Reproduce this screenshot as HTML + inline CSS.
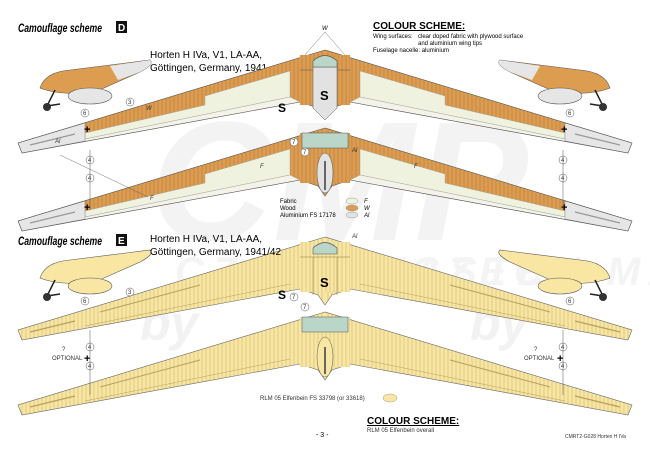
<!DOCTYPE html>
<html><head><meta charset="utf-8"><style>
body{margin:0;background:#fff}
svg{display:block}
text{font-family:"Liberation Sans",sans-serif}
</style></head><body>
<svg width="650" height="460" viewBox="0 0 650 460" xmlns="http://www.w3.org/2000/svg">
<defs>
<pattern id="ribsD" width="4" height="4" patternUnits="userSpaceOnUse"><line x1="2" y1="0" x2="2" y2="4" stroke="#9a6a30" stroke-width="0.4"/></pattern>
<pattern id="ribsE" width="4" height="4" patternUnits="userSpaceOnUse"><line x1="2" y1="0" x2="2" y2="4" stroke="#b8a060" stroke-width="0.4"/></pattern>
<g id="halfD">
 <polygon points="325,0 18,93 22,103 300,52 318,58 325,68" fill="#dd9d50"/>
 <polygon points="325,0 18,93 22,103 300,52 318,58 325,68" fill="url(#ribsD)"/>
 <polygon points="290,21 205,46 205,55 85,83 85,89 290,47" fill="#eef2df" stroke="#999" stroke-width="0.4"/>
 <polygon points="85,89 22,101 22,103 300,52 290,47" fill="#f3f3ea" stroke="#888" stroke-width="0.3"/>
 <polygon points="85,73 18,93 22,103 85,91" fill="#e6e6e6" stroke="#777" stroke-width="0.4"/>
 <line x1="30" y1="95" x2="75" y2="84" stroke="#999" stroke-width="1.2"/>
</g>
<g id="halfE">
 <polygon points="325,0 18,93 22,103 300,52 318,58 325,68" fill="#f8e6a2"/>
 <polygon points="325,0 18,93 22,103 300,52 318,58 325,68" fill="url(#ribsE)"/>
 <line x1="85" y1="89" x2="290" y2="47" stroke="#b8a060" stroke-width="0.5"/>
 <line x1="30" y1="95" x2="75" y2="84" stroke="#b8a060" stroke-width="1.2"/>
 <line x1="100" y1="75" x2="200" y2="48" stroke="#b8a060" stroke-width="1"/>
</g>
<g id="wingD">
 <use href="#halfD"/><use href="#halfD" transform="translate(650,0) scale(-1,1)"/>
 <polygon points="325,0 18,93 22,103 300,52 318,58 325,68 332,58 350,52 628,103 632,93" fill="none" stroke="#555" stroke-width="0.6"/>
</g>
<g id="wingE">
 <use href="#halfE"/><use href="#halfE" transform="translate(650,0) scale(-1,1)"/>
 <polygon points="325,0 18,93 22,103 300,52 318,58 325,68 332,58 350,52 628,103 632,93" fill="none" stroke="#666" stroke-width="0.6"/>
</g>
<g id="side">
 <path d="M40,88 Q45,72 70,70 L150,60 Q155,64 140,72 L95,92 Q60,96 40,88 Z" fill="#dd9d50" stroke="#555" stroke-width="0.6"/>
 <path d="M110,66 L150,60 Q155,64 140,72 L118,80 Z" fill="#e6e6e6"/>
 <ellipse cx="90" cy="96" rx="22" ry="8" fill="#e6e6e6" stroke="#555" stroke-width="0.6"/>
 <path d="M55,90 L47,106 L60,104" fill="none" stroke="#222" stroke-width="1.5"/>
 <circle cx="47" cy="107" r="4" fill="#333"/>
</g>
<g id="sideE">
 <path d="M40,88 Q45,72 70,70 L150,60 Q155,64 140,72 L95,92 Q60,96 40,88 Z" fill="#f8e6a2" stroke="#555" stroke-width="0.6"/>
 <ellipse cx="90" cy="96" rx="22" ry="8" fill="#f8e6a2" stroke="#555" stroke-width="0.6"/>
 <path d="M55,90 L47,106 L60,104" fill="none" stroke="#222" stroke-width="1.5"/>
 <circle cx="47" cy="107" r="4" fill="#333"/>
</g>
</defs>

<!-- watermarks -->
<g font-style="italic" font-weight="bold">
<text x="150" y="240" font-size="170" fill="#f3f3f3">CMP</text>
<text x="175" y="285" font-size="40" fill="#f4f4f4" letter-spacing="8">CZECH MASTER</text>
<text x="410" y="285" font-size="40" fill="#f4f4f4" letter-spacing="8">CZECH MASTER</text>
<text x="140" y="340" font-size="50" fill="#f2f2f2">by</text>
<text x="470" y="340" font-size="50" fill="#f2f2f2">by</text>
</g>

<!-- D -->
<text x="18" y="32" font-size="12" font-weight="bold" font-style="italic" textLength="84" lengthAdjust="spacingAndGlyphs">Camouflage scheme</text>
<rect x="116" y="21" width="11" height="12" fill="#111"/><text x="118" y="31" font-size="10" fill="#fff" font-weight="bold">D</text>
<text x="150" y="58" font-size="10">Horten H IVa, V1, LA-AA,</text>
<text x="150" y="71" font-size="10">Göttingen, Germany, 1941</text>
<text x="373" y="29" font-size="10" font-weight="bold" text-decoration="underline">COLOUR SCHEME:</text>
<text x="373" y="38" font-size="6">Wing surfaces:</text>
<text x="418" y="38" font-size="6">clear doped fabric with plywood surface</text>
<text x="418" y="45" font-size="6">and aluminium wing tips</text>
<text x="373" y="52" font-size="6">Fuselage nacelle: aluminium</text>
<text x="322" y="30" font-size="6" font-style="italic">W</text>
<line x1="325" y1="32" x2="305" y2="55" stroke="#555" stroke-width="0.4"/><line x1="325" y1="32" x2="345" y2="55" stroke="#555" stroke-width="0.4"/>

<g transform="translate(0,50)">
 <use href="#wingD"/>
 <rect x="300" y="5" width="50" height="50" fill="#dd9d50"/>
 <rect x="300" y="5" width="50" height="50" fill="url(#ribsD)"/>
 <line x1="300" y1="20" x2="350" y2="20" stroke="#555" stroke-width="0.5"/>
 <polygon points="313,17 337,17 337,58 325,70 313,58" fill="#e2e2e2" stroke="#555" stroke-width="0.5"/>
 <path d="M313,17 L313,11 Q325,0 337,11 L337,17 Z" fill="#b9d6c8" stroke="#555" stroke-width="0.6"/>
 <text x="320" y="50" font-size="13" font-weight="bold">S</text>
 <text x="278" y="62" font-size="12" font-weight="bold">S</text>
 <text x="84" y="83" font-size="11" font-weight="bold">+</text>
 <text x="561" y="83" font-size="11" font-weight="bold">+</text>
</g>
<g transform="translate(0,128)">
 <use href="#wingD"/>
 <rect x="300" y="5" width="50" height="50" fill="#dd9d50"/>
 <rect x="300" y="5" width="50" height="50" fill="url(#ribsD)"/>
 <polygon points="302,5 348,5 348,20 302,20" fill="#b9d6c8" stroke="#555" stroke-width="0.5"/>
 <ellipse cx="325" cy="45" rx="8" ry="20" fill="#e2e2e2" stroke="#555" stroke-width="0.5"/>
 <line x1="325" y1="33" x2="325" y2="62" stroke="#666" stroke-width="2"/>
 <text x="84" y="83" font-size="11" font-weight="bold">+</text>
 <text x="561" y="83" font-size="11" font-weight="bold">+</text>
</g>
<use href="#side"/>
<use href="#side" transform="translate(650,0) scale(-1,1)"/>
<g font-size="6" fill="#333">
<circle cx="85" cy="113" r="4" fill="#fff" stroke="#555" stroke-width="0.5"/><text x="83" y="115">6</text>
<circle cx="570" cy="113" r="4" fill="#fff" stroke="#555" stroke-width="0.5"/><text x="568" y="115">6</text>
<circle cx="130" cy="102" r="4" fill="#fff" stroke="#555" stroke-width="0.5"/><text x="128" y="104">3</text>
<circle cx="90" cy="160" r="4" fill="#fff" stroke="#555" stroke-width="0.5"/><text x="88" y="162">4</text>
<circle cx="90" cy="178" r="4" fill="#fff" stroke="#555" stroke-width="0.5"/><text x="88" y="180">4</text>
<circle cx="563" cy="160" r="4" fill="#fff" stroke="#555" stroke-width="0.5"/><text x="561" y="162">4</text>
<circle cx="563" cy="178" r="4" fill="#fff" stroke="#555" stroke-width="0.5"/><text x="561" y="180">4</text>
<circle cx="294" cy="142" r="4" fill="#fff" stroke="#555" stroke-width="0.5"/><text x="292" y="144">7</text>
<circle cx="305" cy="152" r="4" fill="#fff" stroke="#555" stroke-width="0.5"/><text x="303" y="154">7</text>
<text x="55" y="143" font-style="italic">Al</text><text x="146" y="110" font-style="italic">W</text>
<text x="150" y="200" font-style="italic">F</text><text x="260" y="168" font-style="italic">F</text>
<text x="414" y="168" font-style="italic">F</text><text x="352" y="152" font-style="italic">Al</text>
<text x="352" y="238" font-style="italic">Al</text>
</g>
<line x1="90" y1="150" x2="90" y2="210" stroke="#555" stroke-width="0.5"/>
<line x1="563" y1="150" x2="563" y2="210" stroke="#555" stroke-width="0.5"/>
<line x1="60" y1="155" x2="148" y2="197" stroke="#555" stroke-width="0.4"/>
<g font-size="6">
<text x="280" y="203">Fabric</text><text x="280" y="210">Wood</text><text x="280" y="217">Aluminium FS 17178</text>
<ellipse cx="352" cy="201" rx="6" ry="3" fill="#eef2df" stroke="#888" stroke-width="0.4"/><text x="364" y="203" font-style="italic">F</text>
<ellipse cx="352" cy="208" rx="6" ry="3" fill="#dd9d50" stroke="#888" stroke-width="0.4"/><text x="364" y="210" font-style="italic">W</text>
<ellipse cx="352" cy="215" rx="6" ry="3" fill="#e2e2e2" stroke="#888" stroke-width="0.4"/><text x="364" y="217" font-style="italic">Al</text>
</g>

<!-- E -->
<g transform="translate(0,237)">
 <use href="#wingE"/>
 <rect x="300" y="5" width="50" height="50" fill="#f8e6a2"/>
 <rect x="300" y="5" width="50" height="50" fill="url(#ribsE)"/>
 <line x1="300" y1="20" x2="350" y2="20" stroke="#8a7a40" stroke-width="0.5"/>
 <line x1="313" y1="20" x2="313" y2="58" stroke="#8a7a40" stroke-width="0.5"/>
 <line x1="337" y1="20" x2="337" y2="58" stroke="#8a7a40" stroke-width="0.5"/>
 <path d="M313,17 L313,11 Q325,0 337,11 L337,17 Z" fill="#b9d6c8" stroke="#555" stroke-width="0.6"/>
 <text x="320" y="50" font-size="13" font-weight="bold">S</text>
 <text x="278" y="62" font-size="12" font-weight="bold">S</text>
</g>
<g transform="translate(0,312)">
 <use href="#wingE"/>
 <rect x="300" y="5" width="50" height="50" fill="#f8e6a2"/>
 <rect x="300" y="5" width="50" height="50" fill="url(#ribsE)"/>
 <polygon points="302,5 348,5 348,20 302,20" fill="#b9d6c8" stroke="#555" stroke-width="0.5"/>
 <ellipse cx="325" cy="45" rx="8" ry="20" fill="#f8e6a2" stroke="#555" stroke-width="0.5"/>
 <line x1="325" y1="35" x2="325" y2="62" stroke="#666" stroke-width="2"/>
</g>
<use href="#sideE" transform="translate(0,190)"/>
<use href="#sideE" transform="translate(650,190) scale(-1,1)"/>
<text x="18" y="245" font-size="12" font-weight="bold" font-style="italic" textLength="84" lengthAdjust="spacingAndGlyphs">Camouflage scheme</text>
<rect x="116" y="234" width="11" height="12" fill="#111"/><text x="118" y="244" font-size="10" fill="#fff" font-weight="bold">E</text>
<text x="150" y="242" font-size="10">Horten H IVa, V1, LA-AA,</text>
<text x="150" y="255" font-size="10">Göttingen, Germany, 1941/42</text>
<g font-size="6" fill="#333">
<circle cx="130" cy="292" r="4" fill="#fff" stroke="#555" stroke-width="0.5"/><text x="128" y="294">3</text>
<circle cx="85" cy="301" r="4" fill="#fff" stroke="#555" stroke-width="0.5"/><text x="83" y="303">6</text>
<circle cx="570" cy="301" r="4" fill="#fff" stroke="#555" stroke-width="0.5"/><text x="568" y="303">6</text>
<circle cx="294" cy="297" r="4" fill="#fff" stroke="#555" stroke-width="0.5"/><text x="292" y="299">7</text>
<circle cx="305" cy="307" r="4" fill="#fff" stroke="#555" stroke-width="0.5"/><text x="303" y="309">7</text>
<circle cx="90" cy="347" r="4" fill="#fff" stroke="#555" stroke-width="0.5"/><text x="88" y="349">4</text>
<circle cx="90" cy="366" r="4" fill="#fff" stroke="#555" stroke-width="0.5"/><text x="88" y="368">4</text>
<circle cx="563" cy="347" r="4" fill="#fff" stroke="#555" stroke-width="0.5"/><text x="561" y="349">4</text>
<circle cx="563" cy="366" r="4" fill="#fff" stroke="#555" stroke-width="0.5"/><text x="561" y="368">4</text>
<text x="62" y="351">?</text><text x="52" y="360">OPTIONAL</text>
<text x="534" y="351">?</text><text x="524" y="360">OPTIONAL</text>
<text x="260" y="400">RLM 05 Elfenbein FS 33798 (or 33618)</text>
<text x="367" y="432">RLM 05 Elfenbein overall</text>
<text x="565" y="438" font-size="5">CMRT2-G028 Horten H IVa</text>
</g>
<text x="84" y="362" font-size="11" font-weight="bold">+</text>
<text x="557" y="362" font-size="11" font-weight="bold">+</text>
<line x1="90" y1="330" x2="90" y2="395" stroke="#555" stroke-width="0.5"/>
<line x1="563" y1="330" x2="563" y2="395" stroke="#555" stroke-width="0.5"/>
<ellipse cx="390" cy="398" rx="7" ry="4" fill="#f8e6a2" stroke="#888" stroke-width="0.4"/>
<text x="367" y="424" font-size="10" font-weight="bold" text-decoration="underline">COLOUR SCHEME:</text>
<text x="316" y="437" font-size="7">- 3 -</text>
</svg>
</body></html>
